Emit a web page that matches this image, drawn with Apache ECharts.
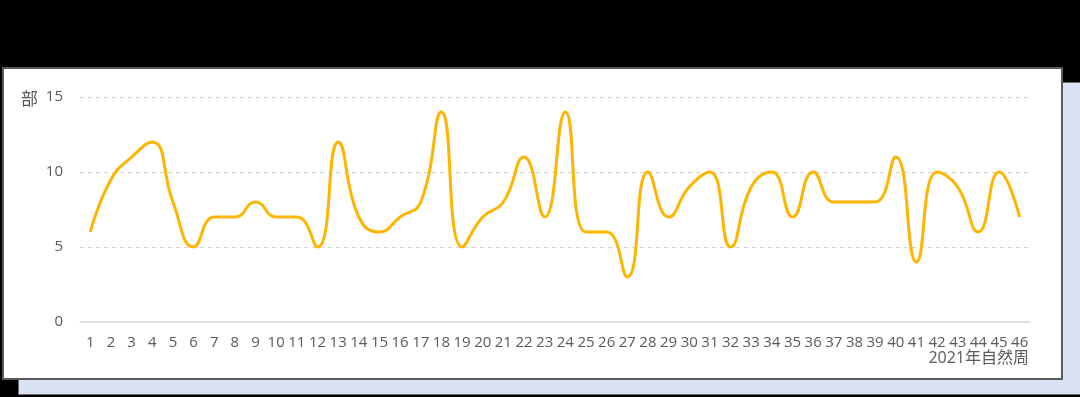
<!DOCTYPE html>
<html><head><meta charset="utf-8">
<script src="https://cdn.jsdelivr.net/npm/echarts@6/dist/echarts.min.js"></script>
<style>
html,body{margin:0;padding:0;width:1080px;height:397px;background:#000;overflow:hidden;}
#shadow{position:absolute;left:18px;top:82px;width:1070px;height:313px;background:#dbe2f4;border:1px solid #6b6b6b;box-sizing:border-box;}
#panel{position:absolute;left:2px;top:67px;width:1061px;height:313px;background:#fff;border:2px solid #5a5a5a;box-sizing:border-box;}
#chart{position:absolute;left:0;top:0;width:1080px;height:397px;}
</style></head>
<body>
<div id="shadow"></div>
<div id="panel"></div>
<div id="chart"></div>
<script>
var weeks = ['1','2','3','4','5','6','7','8','9','10','11','12','13','14','15','16','17','18','19','20','21','22','23','24','25','26','27','28','29','30','31','32','33','34','35','36','37','38','39','40','41','42','43','44','45','46'];
var counts = [6,9.5,11,12,8,5,7,7,8,7,7,5,12,7,6,7,8,14,5,7,8,11,7,14,6,6,3,10,7,9,10,5,9,10,7,10,8,8,8,11,4,10,9,6,10,7];
var yTicks = [0,5,10,15];
var yUnit = '部';
var xName = '2021年自然周';

var font = "'Open Sans','Noto Sans CJK SC',sans-serif";
var cjk = "'Noto Sans CJK SC',sans-serif";
var chart = echarts.init(document.getElementById('chart'), null, {renderer:'canvas'});
chart.setOption({
  backgroundColor: 'transparent',
  animation: false,
  grid: {left: 80, right: 50, top: 97, bottom: 75},
  xAxis: {
    type: 'category', data: weeks, boundaryGap: true,
    axisLine: {lineStyle: {color: '#d9d9d9', width: 1.5}},
    axisTick: {show: false},
    axisLabel: {interval: 0, color: '#595959', fontSize: 15, fontFamily: font, margin: 13}
  },
  yAxis: {
    type: 'value', min: yTicks[0], max: yTicks[yTicks.length-1], interval: 5,
    axisLine: {show: false}, axisTick: {show: false},
    axisLabel: {color: '#595959', fontSize: 15, fontFamily: font, margin: 17},
    splitLine: {lineStyle: {color: '#d4d4d4', type: [4, 4], width: 1}}
  },
  graphic: [
    {type: 'text', left: 21, top: 90, style: {text: yUnit, fill: '#595959', font: '17px ' + cjk}},
    {type: 'text', right: 51, top: 350, style: {text: xName, fill: '#595959', font: '16px ' + font, textAlign: 'right'}}
  ],
  series: [{
    type: 'line', data: counts, smooth: 0.5, symbol: 'none',
    lineStyle: {color: '#FFB400', width: 3}
  }]
});
</script>
</body></html>
